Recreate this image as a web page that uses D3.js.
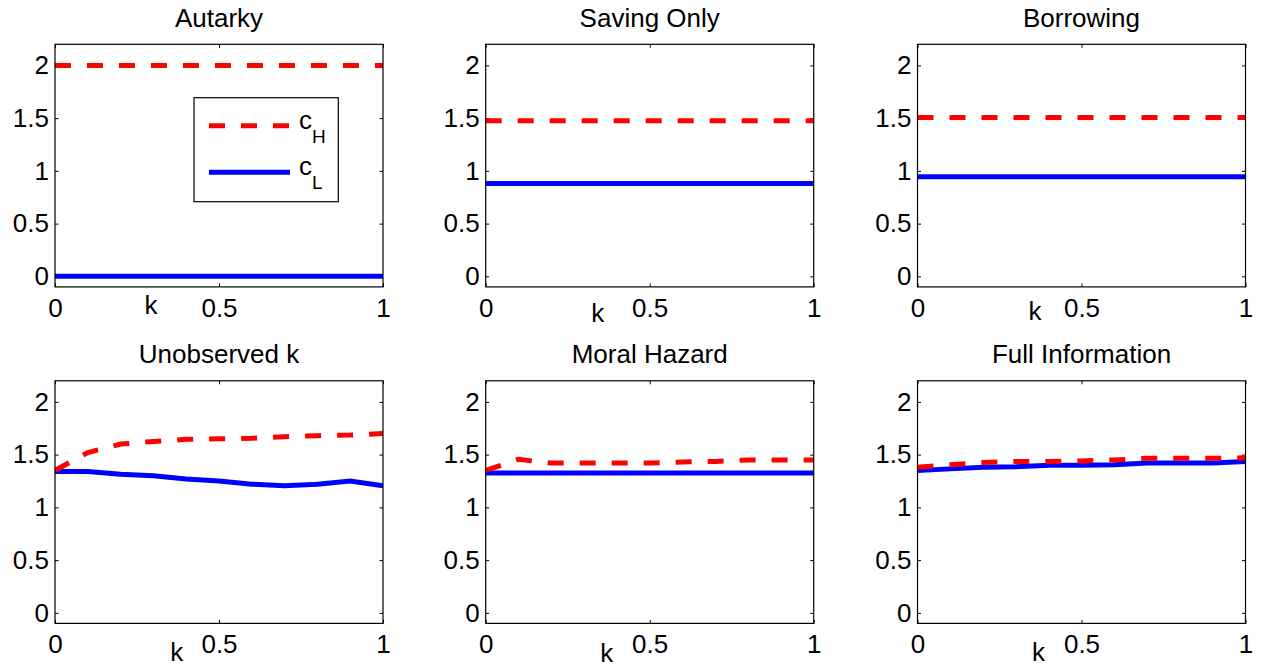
<!DOCTYPE html>
<html>
<head>
<meta charset="utf-8">
<script src="https://cdn.jsdelivr.net/npm/d3@7"></script>
<style>
  body { margin: 0; background: #fff; }
  text { font-family: "Liberation Sans", Arial, Helvetica, sans-serif; fill: #000; }
</style>
</head>
<body>
<svg id="chart" width="1261" height="669"></svg>
<script>
// k grid shared by every panel
const kGrid = [0, 0.1, 0.2, 0.3, 0.4, 0.5, 0.6, 0.7, 0.8, 0.9, 1];

const titles = ["Autarky", "Saving Only", "Borrowing", "Unobserved k", "Moral Hazard", "Full Information"];

// c_H series (red dashed)
const autarkyH   = [2, 2, 2, 2, 2, 2, 2, 2, 2, 2, 2];
const savingH    = [1.475, 1.475, 1.475, 1.475, 1.475, 1.475, 1.475, 1.475, 1.475, 1.475, 1.475];
const borrowH    = [1.505, 1.505, 1.505, 1.505, 1.505, 1.505, 1.505, 1.505, 1.505, 1.505, 1.505];
const unobsH     = [1.35, 1.52, 1.60, 1.625, 1.645, 1.65, 1.655, 1.67, 1.68, 1.685, 1.70];
const moralH     = [1.35, 1.455, 1.42, 1.42, 1.42, 1.42, 1.43, 1.435, 1.45, 1.45, 1.45];
const fullInfoH  = [1.38, 1.405, 1.425, 1.435, 1.435, 1.44, 1.45, 1.465, 1.465, 1.465, 1.47];

// c_L series (blue solid)
const autarkyL   = [0, 0, 0, 0, 0, 0, 0, 0, 0, 0, 0];
const savingL    = [0.88, 0.88, 0.88, 0.88, 0.88, 0.88, 0.88, 0.88, 0.88, 0.88, 0.88];
const borrowL    = [0.945, 0.945, 0.945, 0.945, 0.945, 0.945, 0.945, 0.945, 0.945, 0.945, 0.945];
const unobsL     = [1.34, 1.34, 1.315, 1.30, 1.27, 1.25, 1.22, 1.205, 1.22, 1.25, 1.205];
const moralL     = [1.325, 1.325, 1.325, 1.325, 1.325, 1.325, 1.325, 1.325, 1.325, 1.325, 1.325];
const fullInfoL  = [1.35, 1.365, 1.38, 1.385, 1.40, 1.40, 1.405, 1.42, 1.42, 1.42, 1.435];

const yTicks = [0, 0.5, 1, 1.5, 2];
const xTicks = [0, 0.5, 1];
const legendLabels = ["H", "L"];

const seriesH = [autarkyH, savingH, borrowH, unobsH, moralH, fullInfoH];
const seriesL = [autarkyL, savingL, borrowL, unobsL, moralL, fullInfoL];

// layout
const lefts = [55, 485.7, 917.5];
const tops = [44.3, 380.8];
const W = 328, H = 242.6;
const FS = 26;
// where MATLAB dropped the "k" xlabel in each panel (offset from box left / bottom)
const kLabelPos = [[96, 27.4], [112, 35], [117.5, 33], [121.7, 38], [121, 39], [121, 38]];

const svg = d3.select("#chart");

const x = d3.scaleLinear().domain([0, 1]).range([0, W]);
const y = d3.scaleLinear().domain([-0.1, 2.2]).range([H, 0]);

const line = d3.line()
   .x((d, i) => x(kGrid[i]))
   .y(d => y(d));

const fmt = d => d3.format("~g")(d);

titles.forEach((title, p) => {
   const col = p % 3, row = Math.floor(p / 3);
   const g = svg.append("g")
      .attr("transform", `translate(${lefts[col]},${tops[row]})`);

   g.append("defs").append("clipPath")
      .attr("id", "clip" + p)
      .append("rect")
      .attr("width", W).attr("height", H);

   // axes with inward ticks
   const left = g.append("g")
      .call(d3.axisLeft(y).tickValues(yTicks).tickFormat(fmt).tickSizeInner(-3.5).tickSizeOuter(0).tickPadding(6));
   const right = g.append("g").attr("transform", `translate(${W},0)`)
      .call(d3.axisRight(y).tickValues(yTicks).tickFormat("").tickSizeInner(-3.5).tickSizeOuter(0));
   const bottom = g.append("g").attr("transform", `translate(0,${H})`)
      .call(d3.axisBottom(x).tickValues(xTicks).tickFormat(fmt).tickSizeInner(-3.5).tickSizeOuter(0).tickPadding(11.5));
   const top = g.append("g")
      .call(d3.axisTop(x).tickValues(xTicks).tickFormat("").tickSizeInner(-3.5).tickSizeOuter(0));

   [left, right, bottom, top].forEach(a => {
      a.select(".domain").remove();
      a.selectAll("line").attr("stroke", "#000").attr("stroke-width", 1);
      a.selectAll("text").attr("font-size", FS).attr("fill", "#000")
         .style("font-family", '"Liberation Sans", Arial, sans-serif');
   });

   // data lines
   const lines = g.append("g").attr("clip-path", `url(#clip${p})`);
   lines.append("path")
      .datum(seriesL[p])
      .attr("d", line)
      .attr("fill", "none")
      .attr("stroke", "#0000ff")
      .attr("stroke-width", 5);
   lines.append("path")
      .datum(seriesH[p])
      .attr("d", line)
      .attr("fill", "none")
      .attr("stroke", "#ff0000")
      .attr("stroke-width", 5)
      .attr("stroke-dasharray", "16,16");

   g.append("rect")
      .attr("width", W).attr("height", H)
      .attr("fill", "none")
      .attr("stroke", "#000")
      .attr("stroke-width", 1.2);

   g.append("text")
      .attr("x", W / 2)
      .attr("y", -17.5)
      .attr("text-anchor", "middle")
      .attr("font-size", FS)
      .text(title);

   g.append("text")
      .attr("x", kLabelPos[p][0])
      .attr("y", H + kLabelPos[p][1])
      .attr("text-anchor", "middle")
      .attr("font-size", FS)
      .text("k");

   // legend only on the first panel
   if (p === 0) {
      const lg = g.append("g").attr("transform", "translate(139,53.4)");
      lg.append("rect")
         .attr("width", 144.3).attr("height", 104)
         .attr("fill", "#fff").attr("stroke", "#000").attr("stroke-width", 1.2);
      const styles = [
         { color: "#ff0000", dash: "16,16", yy: 28 },
         { color: "#0000ff", dash: null, yy: 74.6 }
      ];
      legendLabels.forEach((lab, i) => {
         const s = styles[i];
         lg.append("line")
            .attr("x1", 15).attr("x2", 96)
            .attr("y1", s.yy).attr("y2", s.yy)
            .attr("stroke", s.color)
            .attr("stroke-width", 5)
            .attr("stroke-dasharray", s.dash);
         const t = lg.append("text")
            .attr("x", 105)
            .attr("y", s.yy + 3)
            .attr("font-size", FS);
         t.append("tspan").text("c");
         t.append("tspan")
            .attr("font-size", 19)
            .attr("dy", 14)
            .text(lab);
      });
   }
});
</script>
</body>
</html>
